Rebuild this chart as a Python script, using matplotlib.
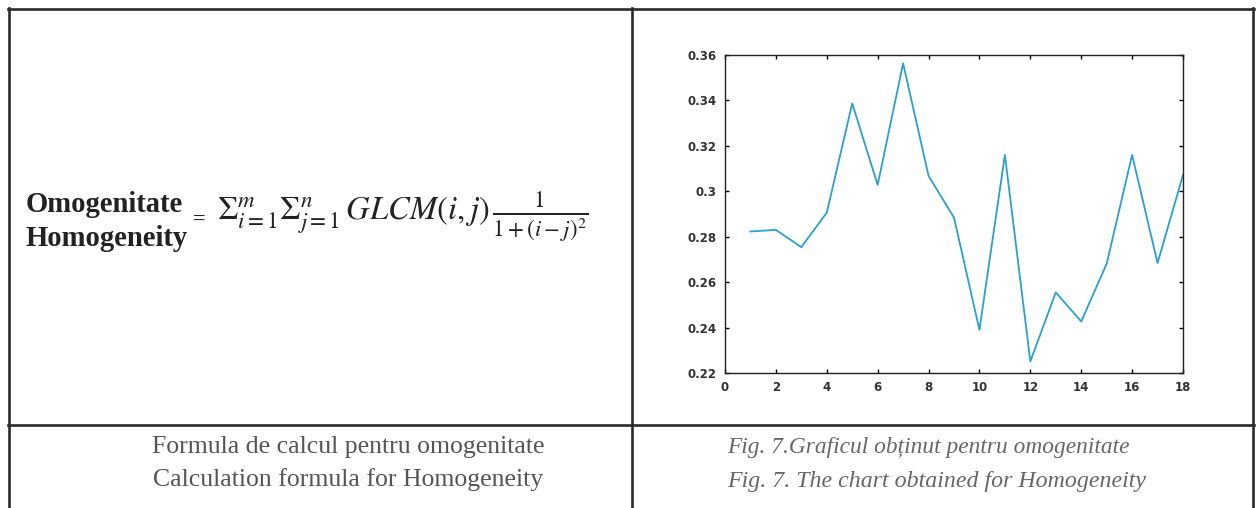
import matplotlib
matplotlib.use('Agg')
import matplotlib.pyplot as plt
from matplotlib.lines import Line2D

# homogeneity values per image
img_idx = list(range(1, 19))
homogeneity = [0.2823, 0.2830, 0.2754, 0.2906, 0.3387, 0.3028, 0.3563, 0.3068, 0.2884,
               0.2390, 0.3160, 0.2251, 0.2555, 0.2427, 0.2681, 0.3160, 0.2684, 0.3072]
x_ticks = [0, 2, 4, 6, 8, 10, 12, 14, 16, 18]
y_ticks = [0.22, 0.24, 0.26, 0.28, 0.30, 0.32, 0.34, 0.36]
y_labels = ['0.22', '0.24', '0.26', '0.28', '0.3', '0.32', '0.34', '0.36']

W, H = 1256, 508
plt.rcParams['mathtext.fontset'] = 'stix'
fig = plt.figure(figsize=(W / 100, H / 100), dpi=100)

# table grid
def hline(y, x0, x1):
    fig.add_artist(Line2D([x0 / W, x1 / W], [1 - y / H, 1 - y / H], color='#2a2a2a', lw=1.9))

def vline(x, y0, y1):
    fig.add_artist(Line2D([x / W, x / W], [1 - y0 / H, 1 - y1 / H], color='#2a2a2a', lw=1.9))

hline(9, 8, 1254)
hline(425, 8, 1254)
vline(9, 8, 508)
vline(631.5, 8, 508)
vline(1253, 8, 508)

# formula
fig.text(26 / W, 1 - 205 / H, 'Omogenitate', fontsize=20.6, fontweight='bold',
         family='Liberation Serif', color='#222222', va='center')
fig.text(26 / W, 1 - 238 / H, 'Homogeneity', fontsize=20.6, fontweight='bold',
         family='Liberation Serif', color='#222222', va='center')
fig.text(193 / W, 1 - 220 / H, '=', fontsize=16, fontweight='bold',
         family='Liberation Serif', color='#222222', va='center')
fig.text(217 / W, 1 - 217 / H,
         r'$\Sigma_{i=1}^{m}\Sigma_{j=1}^{n}\,GLCM(i,j)\,\frac{1}{1+(i-j)^2}$',
         fontsize=23.5, color='#222222', va='center')

# captions
fig.text(348 / W, 1 - 447 / H, 'Formula de calcul pentru omogenitate', fontsize=18.5,
         family='Liberation Serif', color='#555555', ha='center', va='center')
fig.text(348 / W, 1 - 480 / H, 'Calculation formula for Homogeneity', fontsize=18.5,
         family='Liberation Serif', color='#555555', ha='center', va='center')
fig.text(727 / W, 1 - 448 / H, 'Fig. 7.Graficul obținut pentru omogenitate', fontsize=16.8,
         family='Liberation Serif', style='italic', color='#666666', ha='left', va='center')
fig.text(727 / W, 1 - 481 / H, 'Fig. 7. The chart obtained for Homogeneity', fontsize=17.2,
         family='Liberation Serif', style='italic', color='#666666', ha='left', va='center')

# chart
ax = fig.add_axes([725 / W, 1 - 373 / H, (1183 - 725) / W, (373 - 55) / H])
ax.plot(img_idx, homogeneity, color='#2a9fd2', lw=1.3)
ax.set_xlim(0, 18)
ax.set_ylim(0.22, 0.36)
ax.set_xticks(x_ticks)
ax.set_yticks(y_ticks)
ax.set_yticklabels(y_labels)
ax.tick_params(direction='in', top=True, right=True, length=3, width=1,
               labelsize=8.5, pad=6)
for lab in ax.get_xticklabels() + ax.get_yticklabels():
    lab.set_fontweight('bold')
    lab.set_color('#333333')
for s in ax.spines.values():
    s.set_linewidth(1.0)
    s.set_color('#222222')

fig.savefig('out.png', dpi=100)
